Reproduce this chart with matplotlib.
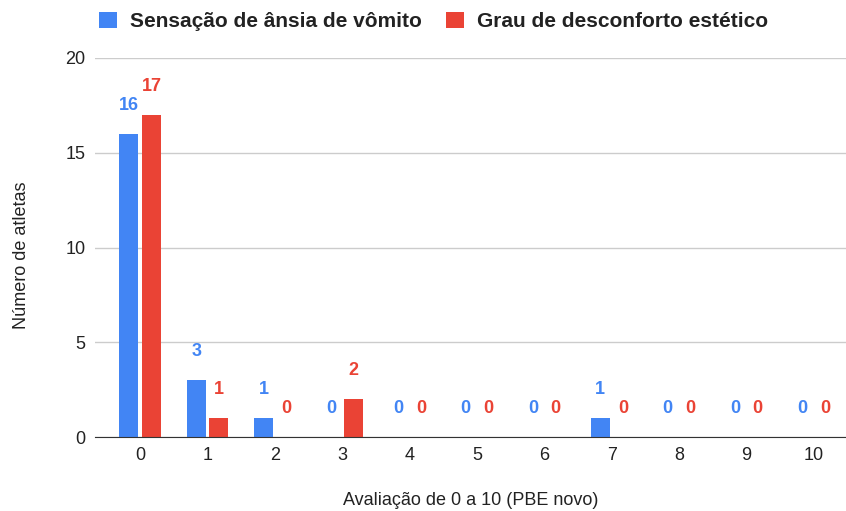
import numpy as np
import matplotlib
matplotlib.use('Agg')
import matplotlib.pyplot as plt

plt.rcParams['font.family'] = ['Liberation Sans', 'DejaVu Sans']

categories = ['0', '1', '2', '3', '4', '5', '6', '7', '8', '9', '10']
ansia = [16, 3, 1, 0, 0, 0, 0, 1, 0, 0, 0]
desconforto = [17, 1, 0, 2, 0, 0, 0, 0, 0, 0, 0]
series_names = ['Sensação de ânsia de vômito', 'Grau de desconforto estético']
colors = ['#4285F4', '#EA4335']

fig = plt.figure(figsize=(8.46, 5.11), dpi=100)
ax = fig.add_axes([0.1123, 0.1448, 0.8877, 0.7417])

x = np.arange(len(categories))
w = 0.28
off = 0.168
for vals, dx, c, name in [(ansia, -off, colors[0], series_names[0]),
                          (desconforto, off, colors[1], series_names[1])]:
    ax.bar(x + dx, vals, width=w, color=c, label=name, zorder=3)
    for xi, v in zip(x + dx, vals):
        ax.annotate(str(v), (xi, v), xytext=(0, 20.5), textcoords='offset points',
                    ha='center', va='center', color=c, fontsize=13, fontweight='bold')

ax.set_xlim(-0.67, 10.48)
ax.set_ylim(0, 20)
ax.set_yticks([0, 5, 10, 15, 20])
ax.set_xticks(x)
ax.set_xticklabels(categories)
ax.grid(axis='y', color='#cccccc', linewidth=1, zorder=0)
for s in ['top', 'right', 'left']:
    ax.spines[s].set_visible(False)
ax.spines['bottom'].set_color('#333333')
ax.spines['bottom'].set_zorder(4)
ax.tick_params(axis='both', length=0, labelsize=13, colors='#222222')
ax.tick_params(axis='x', pad=7)
ax.tick_params(axis='y', pad=7)
ax.set_xlabel('Avaliação de 0 a 10 (PBE novo)', fontsize=13, color='#222222', labelpad=20)
ax.set_ylabel('Número de atletas', fontsize=13, color='#222222', labelpad=25, y=0.48)

leg = fig.legend(loc='upper left', bbox_to_anchor=(0.117, 0.977), ncol=2, frameon=False,
                 borderpad=0, borderaxespad=0,
                 handlelength=0.85, handleheight=0.8, handletextpad=0.62, columnspacing=1.2,
                 prop={'size': 15, 'weight': 'bold'})
for t in leg.get_texts():
    t.set_color('#222222')

plt.savefig('out.png', dpi=100)
